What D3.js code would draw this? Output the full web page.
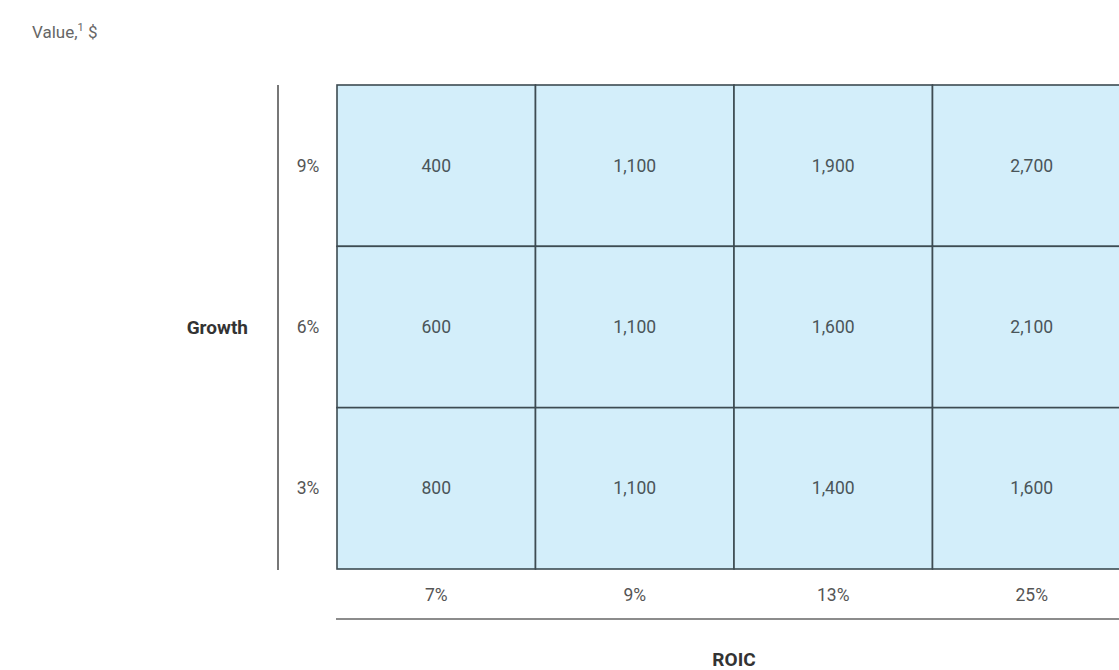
<!DOCTYPE html>
<html>
<head>
<meta charset="utf-8">
<script src="https://cdn.jsdelivr.net/npm/d3@7"></script>
<style>
  body { margin: 0; background: #fff; }
  text { font-family: "Roboto", sans-serif; }
</style>
</head>
<body>
<div id="chart"></div>
<script>
// data
const roic = ["7%", "9%", "13%", "25%"];
const growth = ["9%", "6%", "3%"];
const values = [
    [400, 1100, 1900, 2700],
    [600, 1100, 1600, 2100],
    [800, 1100, 1400, 1600]
];

const W = 1119, H = 670;

const svg = d3.select("#chart")
    .append("svg")
    .attr("width", W)
    .attr("height", H);

const x = d3.scaleBand().domain(roic).range([337, 337 + 4 * 198.5]);
const y = d3.scaleBand().domain(growth).range([85, 569]);
const fmt = d3.format(",");

const cells = [];
growth.forEach((g, i) => roic.forEach((r, j) => cells.push({ g, r, v: values[i][j] })));

// cells
svg.append("g").selectAll("rect")
    .data(cells)
    .enter()
    .append("rect")
    .attr("x", d => x(d.r))
    .attr("y", d => y(d.g))
    .attr("width", x.bandwidth())
    .attr("height", y.bandwidth())
    .style("fill", "#d3eefa")
    .style("stroke", "#3d4b52")
    .style("stroke-width", 1.6);

svg.append("g").selectAll("text")
    .data(cells)
    .enter()
    .append("text")
    .attr("x", d => x(d.r) + x.bandwidth() / 2)
    .attr("y", d => y(d.g) + y.bandwidth() / 2)
    .attr("dy", "0.35em")
    .attr("text-anchor", "middle")
    .style("font-size", "17.5px")
    .style("fill", "#4a5559")
    .text(d => fmt(d.v));

// row labels
svg.append("g").selectAll("text")
    .data(growth)
    .enter()
    .append("text")
    .attr("x", 308)
    .attr("y", d => y(d) + y.bandwidth() / 2)
    .attr("dy", "0.35em")
    .attr("text-anchor", "middle")
    .style("font-size", "17.5px")
    .style("fill", "#555")
    .text(d => d);

// column labels
svg.append("g").selectAll("text")
    .data(roic)
    .enter()
    .append("text")
    .attr("x", d => x(d) + x.bandwidth() / 2)
    .attr("y", 595)
    .attr("dy", "0.35em")
    .attr("text-anchor", "middle")
    .style("font-size", "17.5px")
    .style("fill", "#555")
    .text(d => d);

// axis rules
svg.append("line")
    .attr("x1", 278).attr("x2", 278)
    .attr("y1", 85).attr("y2", 570)
    .style("stroke", "#555")
    .style("stroke-width", 1.6);

svg.append("line")
    .attr("x1", 336).attr("x2", W)
    .attr("y1", 619).attr("y2", 619)
    .style("stroke", "#666")
    .style("stroke-width", 1.6);

// axis titles
svg.append("text")
    .attr("x", 248)
    .attr("y", y("6%") + y.bandwidth() / 2)
    .attr("dy", "0.35em")
    .attr("text-anchor", "end")
    .style("font-size", "19px")
    .style("font-weight", "bold")
    .style("fill", "#333")
    .text("Growth");

svg.append("text")
    .attr("x", 734)
    .attr("y", 659)
    .attr("dy", "0.35em")
    .attr("text-anchor", "middle")
    .style("font-size", "19px")
    .style("font-weight", "bold")
    .style("fill", "#333")
    .text("ROIC");

// title
const title = svg.append("text")
    .attr("x", 32)
    .attr("y", 38)
    .style("font-size", "17px")
    .style("fill", "#666");
title.append("tspan").text("Value,");
title.append("tspan").attr("dy", -7).style("font-size", "11px").text("1");
title.append("tspan").attr("dy", 7).text(" $");
</script>
</body>
</html>
